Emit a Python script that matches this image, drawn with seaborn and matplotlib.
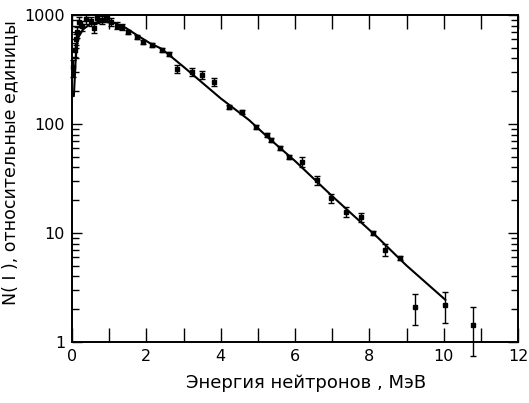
import matplotlib
matplotlib.use("Agg")
import matplotlib.pyplot as plt
import seaborn as sns
import numpy as np
from matplotlib.ticker import FixedLocator, FixedFormatter, LogLocator, NullFormatter

# Fitted spectrum curve
curve_energy = [0.05, 0.10, 0.16, 0.30, 0.50, 0.70, 0.90, 1.15, 1.45, 1.74, 2.09, 2.41,
                3.00, 4.00, 4.76, 5.29, 6.00, 7.00, 8.24, 9.00, 10.05]
curve_counts = [180, 400, 615, 740, 830, 862, 860, 845, 760, 656, 553, 490,
                335, 172, 109, 74.4, 45.8, 21.8, 9.0, 5.03, 2.43]

# Measured points with error bars
point_energy = [0.04, 0.07, 0.10, 0.14, 0.20, 0.28, 0.38, 0.50, 0.58, 0.68, 0.80, 0.92,
                1.05, 1.20, 1.35, 1.50, 1.76, 1.90, 2.14, 2.43, 2.60, 2.83, 3.24, 3.50,
                3.82, 4.22, 4.57, 4.95, 5.24, 5.35, 5.60, 5.85, 6.18, 6.58, 6.98, 7.38,
                7.78, 8.10, 8.42, 8.82, 9.22, 10.03, 10.80]
point_counts = [330, 480, 600, 700, 860, 800, 920, 880, 760, 930, 900, 940,
                870, 800, 780, 698, 629, 565, 531, 478, 440, 320, 300, 282,
                243, 143, 129, 94, 79, 71, 60, 50, 44.8, 30.6, 20.9, 15.6,
                14.0, 10.0, 7.0, 5.9, 2.09, 2.2, 1.42]
point_err = [60, 70, 70, 80, 90, 80, 90, 80, 70, 80, 80, 60,
             70, 60, 50, 30, 25, 22, 20, 18, 18, 28, 25, 24,
             20, 6, 5, 4, 3, 3, 2.5, 2, 4.5, 3, 2, 1.6,
             1.4, 0.5, 0.9, 0.3, 0.65, 0.7, 0.68]

x_major = [0, 2, 4, 6, 8, 10, 12]
x_minor = [1, 3, 5, 7, 9, 11]
y_major = [1, 10, 100, 1000]
y_labels = ["1", "10", "100", "1000"]

sns.set_style("ticks")
plt.rcParams['font.family'] = ['DejaVu Sans']
plt.rcParams['text.color'] = 'black'
plt.rcParams['axes.labelcolor'] = 'black'
plt.rcParams['xtick.color'] = 'black'
plt.rcParams['ytick.color'] = 'black'

fig = plt.figure(figsize=(5.29, 4.03), dpi=100)
ax = fig.add_axes([72 / 529, 1 - 342 / 403, 446 / 529, 327 / 403])

sns.lineplot(x=curve_energy, y=curve_counts, ax=ax, color="black", lw=1.5, sort=True)
ax.errorbar(point_energy, point_counts, yerr=point_err, fmt="s", ms=2.6,
            color="black", ecolor="black", elinewidth=1.0, capsize=2.2,
            capthick=1.0, clip_on=False, zorder=3)

ax.set_yscale("log")
ax.set_xlim(0, 12)
ax.set_ylim(1, 1000)

ax.xaxis.set_major_locator(FixedLocator(x_major))
ax.xaxis.set_minor_locator(FixedLocator(x_minor))
ax.set_xticklabels([str(v) for v in x_major])
ax.yaxis.set_major_locator(FixedLocator(y_major))
ax.yaxis.set_major_formatter(FixedFormatter(y_labels))
ax.yaxis.set_minor_locator(LogLocator(base=10, subs=np.arange(2, 10)))
ax.yaxis.set_minor_formatter(NullFormatter())

ax.tick_params(axis="x", which="both", direction="in", top=True, length=10,
               width=1.0, labelsize=11.5, pad=5, color="black", labelcolor="black")
ax.tick_params(axis="y", which="major", direction="in", right=True, length=7.5,
               width=1.0, labelsize=11.5, pad=5, color="black", labelcolor="black")
ax.tick_params(axis="y", which="minor", direction="in", right=True, length=5,
               width=1.0, color="black")
for s in ax.spines.values():
    s.set_linewidth(1.4)
    s.set_color("black")
    s.set_visible(True)

ax.set_xlabel("Энергия нейтронов , МэВ", fontsize=13, color="black")
ax.set_ylabel("N( I ), относительные единицы", fontsize=12.5, color="black")
ax.xaxis.set_label_coords(0.525, -0.098)
ax.yaxis.set_label_coords(-0.118, 0.55)

fig.savefig("out.png", dpi=100)
